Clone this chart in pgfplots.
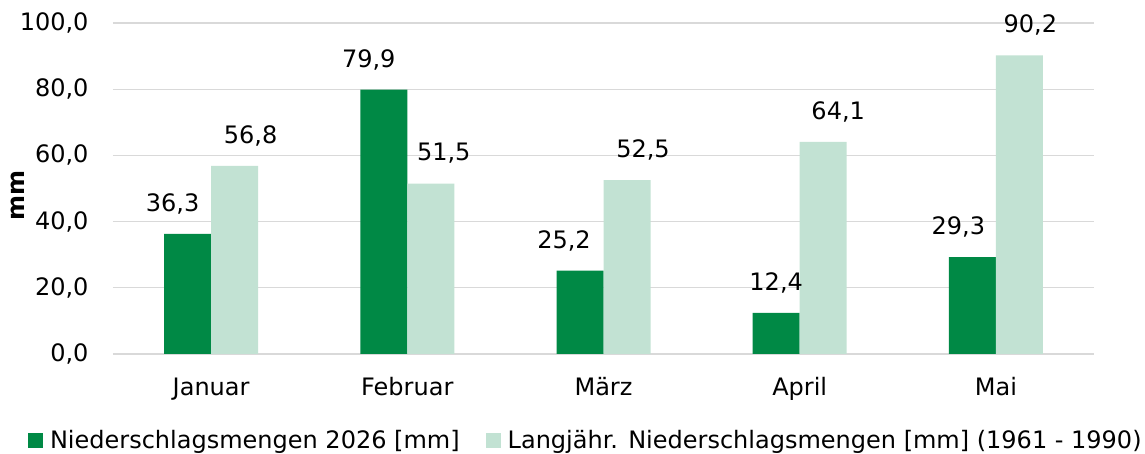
\documentclass[border=0pt]{standalone}
\usepackage{fontspec}
\setmainfont{DejaVu Sans}
\usepackage{pgfplots}
\usepackage{pgfplotstable}
\pgfplotsset{compat=1.18}
\definecolor{dgreen}{RGB}{0,137,69}
\definecolor{lgreen}{RGB}{194,226,211}
\definecolor{gridgray}{RGB}{217,217,217}

\pgfplotstableread{
x y dx
0 36.3 -15
1 79.9 -15
2 25.2 -16
3 12.4 0
4 29.3 -14
}\dataA
\pgfplotstableread{
x y dx
0 56.8 16
1 51.5 13
2 52.5 16
3 64.1 15
4 90.2 11
}\dataB

\begin{document}
\begin{tikzpicture}[font=\fontsize{24}{28}\selectfont]
\path[use as bounding box] (-113pt,-100pt) rectangle (1032pt,354pt);
\begin{axis}[
  at={(0pt,0pt)}, anchor=south west,
  scale only axis, width=981pt, height=331pt,
  xmin=-0.5, xmax=4.5, ymin=0, ymax=100,
  ytick={0,20,...,100},
  xtick={0,...,4},
  xticklabels={Januar,Februar,März,April,Mai},
  axis line style={draw=none},
  major tick length=0pt,
  ymajorgrids,
  grid style={gridgray, line width=1.3pt},
  /pgf/number format/.cd, use comma, fixed, fixed zerofill, precision=1, assume math mode=true,
  /pgfplots/.cd,
  yticklabel style={anchor=east, xshift=-21pt},
  xticklabel style={anchor=north, yshift=-20pt},
  ylabel={\bfseries mm},
  every axis y label/.style={at={(axis description cs:-0.097,0.48)}, rotate=90, anchor=center},
  ybar, bar width=47pt,
  nodes near coords,
  visualization depends on={\thisrow{dx}\as\dx},
  every node near coord/.append style={anchor=center, yshift=30pt, xshift=\dx pt, black},
  legend columns=2,
  legend style={at={(axis description cs:0.482,-0.26)}, anchor=center, draw=none, fill=none,
    /tikz/every even column/.append style={column sep=24pt}},
  legend image code/.code={\fill[#1] (0pt,-7.5pt) rectangle (15pt,7.5pt); \path (20pt,0pt);},
]
\addplot[fill=dgreen, draw=none, bar shift=-23.5pt] table[x=x, y=y] {\dataA};
\addlegendentry{Niederschlagsmengen 2026 [mm]}
\addplot[fill=lgreen, draw=none, bar shift=23.5pt] table[x=x, y=y] {\dataB};
\addlegendentry{Langjähr. Niederschlagsmengen [mm] (1961 - 1990)}
\end{axis}
\end{tikzpicture}
\end{document}
